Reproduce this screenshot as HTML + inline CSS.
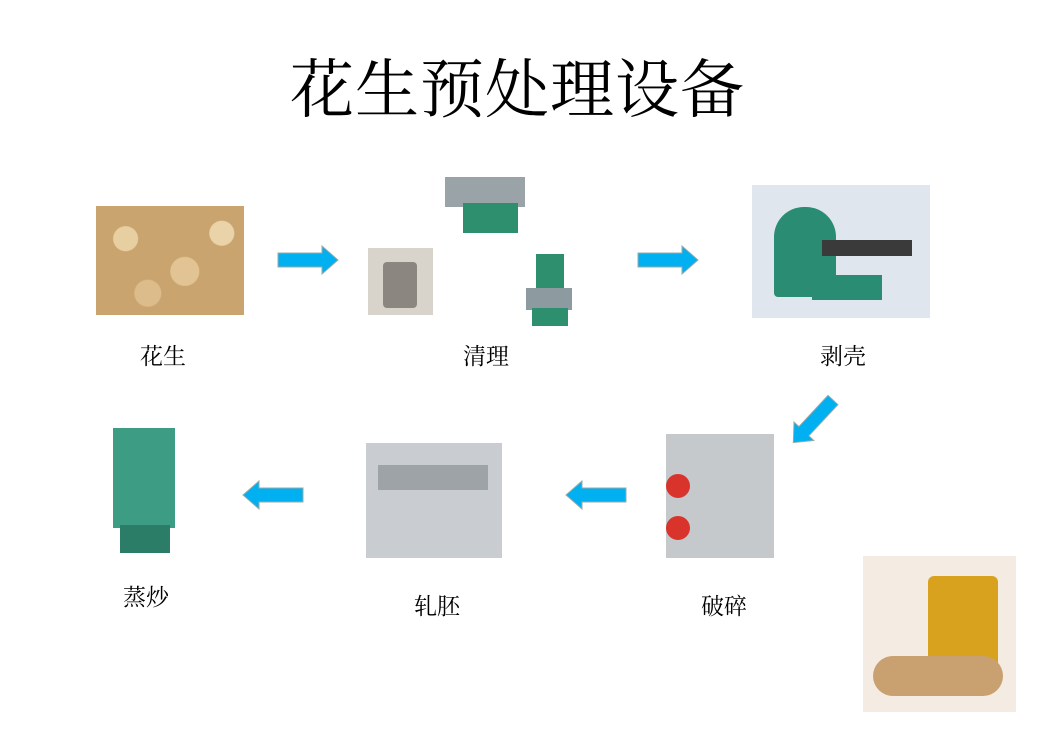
<!DOCTYPE html>
<html><head><meta charset="utf-8"><style>
body{margin:0;width:1046px;height:752px;background:#fff;position:relative;overflow:hidden;font-family:"Liberation Serif","Noto Serif CJK SC",serif}
.t{position:absolute;white-space:nowrap}
.lbl{position:absolute;font-size:23px;color:#000;font-family:"Liberation Serif","Noto Serif CJK SC",serif;transform:translateX(-50%)}
.b{position:absolute}
</style></head><body>
<div class="t" style="left:290px;top:39px;font-size:64px;letter-spacing:1px">花生预处理设备</div>

<div class="b" style="left:96px;top:206px;width:148px;height:109px;background:radial-gradient(circle at 20% 30%,#e8cfa2 0 12px,transparent 13px),radial-gradient(circle at 60% 60%,#e2c494 0 14px,transparent 15px),radial-gradient(circle at 85% 25%,#ead3a8 0 12px,transparent 13px),radial-gradient(circle at 35% 80%,#dcbc8a 0 13px,transparent 14px),#c9a46e"></div>

<div class="b" style="left:433px;top:163px;width:105px;height:77px;background:#fff">
 <div class="b" style="left:12px;top:14px;width:80px;height:30px;background:#9aa3a8"></div>
 <div class="b" style="left:30px;top:40px;width:55px;height:30px;background:#2e8f6e"></div>
</div>
<div class="b" style="left:368px;top:248px;width:65px;height:67px;background:#d8d4cc">
 <div class="b" style="left:15px;top:14px;width:34px;height:46px;background:#8b8780;border-radius:4px"></div>
</div>
<div class="b" style="left:512px;top:248px;width:71px;height:79px;background:#fff">
 <div class="b" style="left:24px;top:6px;width:28px;height:36px;background:#2e8f6e"></div>
 <div class="b" style="left:14px;top:40px;width:46px;height:22px;background:#8d9aa0"></div>
 <div class="b" style="left:20px;top:60px;width:36px;height:18px;background:#2e8f6e"></div>
</div>

<div class="b" style="left:752px;top:185px;width:178px;height:133px;background:#dfe6ee">
 <div class="b" style="left:22px;top:22px;width:62px;height:90px;background:#2a8c72;border-radius:30px 30px 4px 4px"></div>
 <div class="b" style="left:70px;top:55px;width:90px;height:16px;background:#3a3a3a"></div>
 <div class="b" style="left:60px;top:90px;width:70px;height:25px;background:#2a8c72"></div>
</div>

<div class="b" style="left:95px;top:420px;width:105px;height:138px;background:#fff">
 <div class="b" style="left:18px;top:8px;width:62px;height:100px;background:#3c9d84"></div>
 <div class="b" style="left:25px;top:105px;width:50px;height:28px;background:#2c7d68"></div>
</div>

<div class="b" style="left:358px;top:435px;width:152px;height:125px;background:#fff">
 <div class="b" style="left:8px;top:8px;width:136px;height:115px;background:#c9ccd0"></div>
 <div class="b" style="left:20px;top:30px;width:110px;height:25px;background:#9ea3a8"></div>
</div>

<div class="b" style="left:660px;top:432px;width:120px;height:128px;background:#fff">
 <div class="b" style="left:6px;top:2px;width:108px;height:124px;background:#c6c9cc"></div>
 <div class="b" style="left:6px;top:42px;width:24px;height:24px;background:#d8342c;border-radius:50%"></div>
 <div class="b" style="left:6px;top:84px;width:24px;height:24px;background:#d8342c;border-radius:50%"></div>
</div>

<div class="b" style="left:863px;top:556px;width:153px;height:156px;background:#f4ece2">
 <div class="b" style="left:65px;top:20px;width:70px;height:110px;background:#d9a21e;border-radius:6px"></div>
 <div class="b" style="left:10px;top:100px;width:130px;height:40px;background:#c9a070;border-radius:20px"></div>
</div>

<svg class="b" style="left:0;top:0" width="1046" height="752">
 <defs><polygon id="ar" points="0,-7 44,-7 44,-14 60,0 44,14 44,7 0,7" fill="#00b0f0" stroke="#9aa" stroke-width="1"/></defs>
 <use href="#ar" transform="translate(278,260)"/>
 <use href="#ar" transform="translate(638,260)"/>
 <use href="#ar" transform="translate(833,400) rotate(133) scale(0.97)"/>
 <use href="#ar" transform="translate(303,495) rotate(180)"/>
 <use href="#ar" transform="translate(626,495) rotate(180)"/>
</svg>

<div class="lbl" style="left:163px;top:338px">花生</div>
<div class="lbl" style="left:486px;top:338px">清理</div>
<div class="lbl" style="left:843px;top:338px">剥壳</div>
<div class="lbl" style="left:146px;top:579px">蒸炒</div>
<div class="lbl" style="left:437px;top:588px">轧胚</div>
<div class="lbl" style="left:724px;top:588px">破碎</div>
</body></html>
